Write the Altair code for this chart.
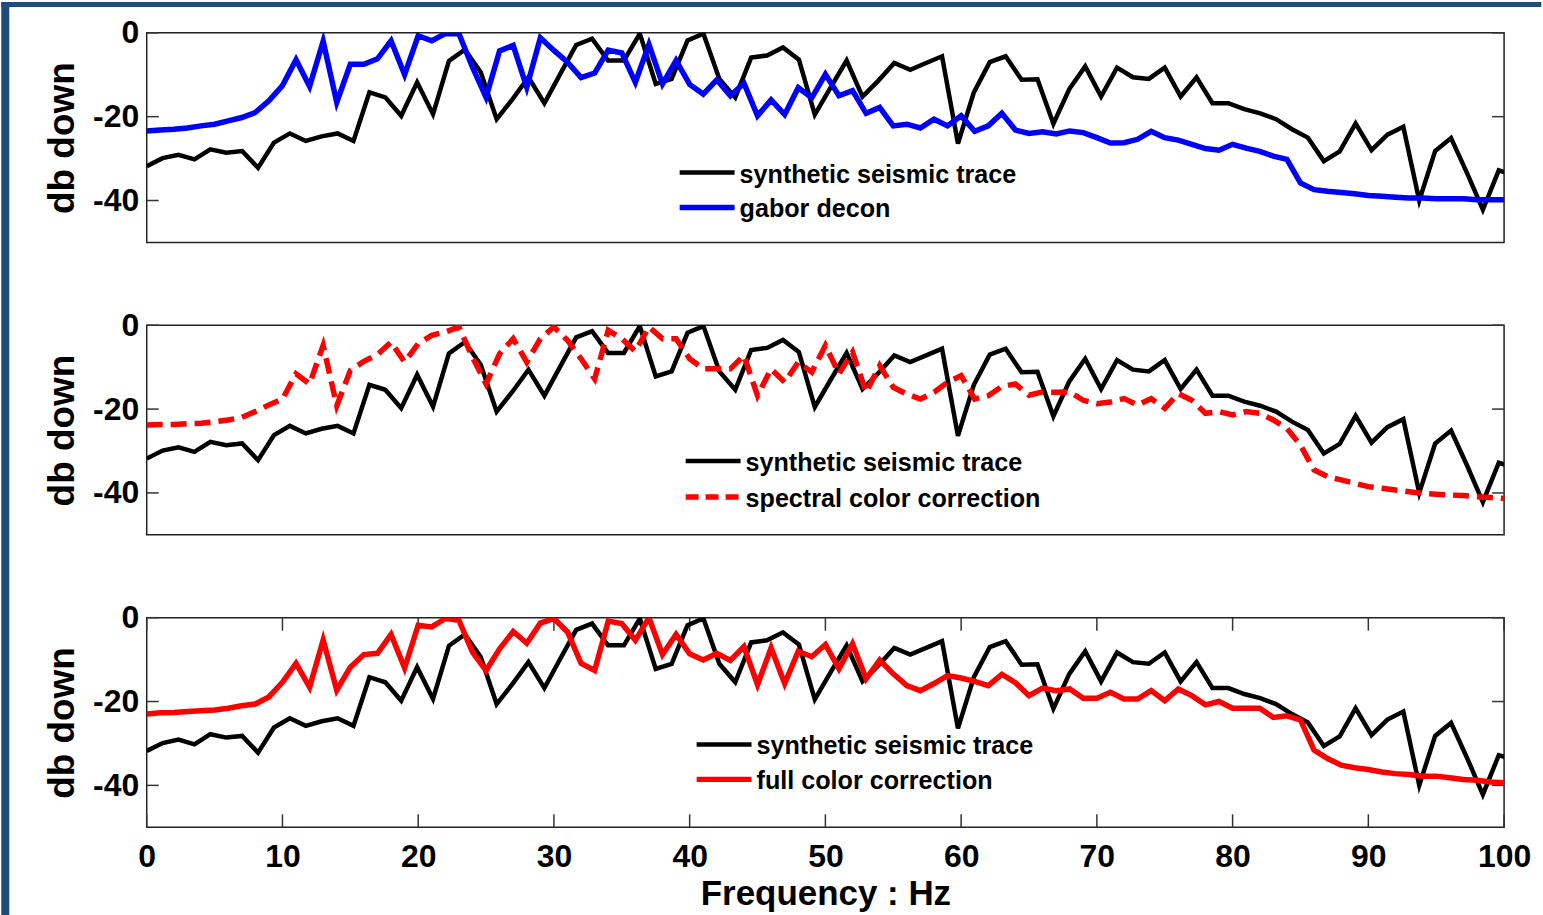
import altair as alt
import pandas as pd

# ---------------- data ----------------
SERIES = ["synthetic seismic trace", "gabor decon",
          "spectral color correction", "full color correction"]

# synthetic trace: sampled every 1.171875 Hz (k = 0..86)
BLACK_STEP_HZ = 1.171875
synthetic_db = [
    -31.8, -29.9, -29.1, -30.2, -27.8, -28.6, -28.2, -32.2, -26.2, -24.0,
    -25.8, -24.7, -24.0, -25.8, -14.2, -15.4, -19.8, -11.8, -19.4, -6.7,
    -4.0, -9.4, -20.6, -15.8, -10.6, -16.8, -9.8, -2.9, -1.4, -6.6,
    -6.6, -0.2, -12.2, -11.0, -1.8, -0.2, -11.0, -15.4, -5.9, -5.4,
    -3.5, -6.4, -19.5, -13.0, -6.6, -15.2, -11.4, -7.2, -8.8, -7.2,
    -5.6, -26.4, -14.2, -7.0, -5.6, -11.2, -11.1, -21.7, -13.4, -8.0,
    -15.2, -8.3, -10.6, -11.0, -8.3, -15.2, -10.6, -16.8, -16.8, -18.2,
    -19.2, -20.6, -23.0, -25.0, -30.6, -28.3, -21.6, -28.0, -24.3, -22.4,
    -40.0, -28.2, -25.1, -33.4, -42.2, -32.8, -34.0,
]

# processed spectra: sampled every 1 Hz (0..100)
freq_hz = list(range(0, 101))
gabor_db = [
    -23.4, -23.2, -23.0, -22.7, -22.2, -21.8, -21.0, -20.2, -19.0, -16.2,
    -12.6, -6.4, -12.8, -2.0, -16.6, -7.5, -7.5, -6.2, -1.9, -10.0,
    -0.7, -1.9, -0.2, -0.2, -8.2, -15.4, -4.3, -3.0, -13.0, -1.2,
    -4.2, -7.0, -10.7, -9.6, -4.1, -4.8, -11.8, -2.8, -12.2, -6.6,
    -12.3, -14.6, -11.2, -15.0, -12.0, -19.8, -16.0, -19.5, -13.1, -15.5,
    -9.9, -15.0, -13.8, -19.2, -17.8, -22.2, -21.8, -22.7, -20.6, -22.2,
    -19.8, -23.5, -22.2, -19.2, -23.2, -24.0, -23.6, -24.1, -23.4, -23.8,
    -25.0, -26.3, -26.2, -25.4, -23.5, -25.0, -25.6, -26.6, -27.6, -28.0,
    -26.6, -27.5, -28.3, -29.4, -30.2, -35.8, -37.4, -37.8, -38.1, -38.4,
    -38.8, -39.0, -39.2, -39.4, -39.4, -39.6, -39.6, -39.6, -39.8, -39.8,
    -39.8,
]
spectral_db = [
    -23.8, -23.7, -23.7, -23.5, -23.4, -23.0, -22.6, -22.0, -20.6, -19.0,
    -17.6, -11.6, -14.0, -4.8, -19.2, -10.8, -8.6, -7.0, -4.0, -8.8,
    -4.4, -2.4, -1.6, -0.4, -7.6, -14.0, -6.8, -3.2, -8.8, -3.2,
    -0.4, -3.6, -8.0, -12.8, -1.2, -3.2, -6.2, -0.4, -3.2, -3.2,
    -8.0, -10.4, -10.4, -10.4, -7.2, -16.8, -10.4, -13.6, -8.8, -11.2,
    -4.8, -11.6, -6.4, -16.0, -9.6, -14.8, -16.4, -17.6, -16.0, -13.6,
    -12.0, -17.6, -16.8, -14.6, -14.0, -16.7, -15.9, -16.0, -15.9, -17.9,
    -18.7, -18.3, -17.5, -19.0, -17.5, -19.8, -16.3, -17.9, -21.0, -20.6,
    -21.4, -20.6, -21.0, -22.6, -24.6, -28.6, -34.5, -36.1, -36.9, -37.7,
    -38.5, -38.9, -39.3, -39.7, -40.1, -40.3, -40.5, -40.6, -40.9, -41.1,
    -41.3,
]
full_db = [
    -23.0, -22.7, -22.6, -22.4, -22.2, -22.0, -21.6, -21.0, -20.6, -18.9,
    -15.4, -10.9, -16.6, -5.3, -17.3, -11.8, -8.8, -8.5, -4.0, -12.0,
    -1.8, -2.2, -0.2, -0.6, -8.2, -12.6, -7.4, -3.3, -6.1, -1.3,
    -0.2, -3.4, -10.9, -12.6, -0.8, -1.4, -5.4, 0.0, -8.8, -4.0,
    -8.6, -10.1, -8.5, -10.2, -6.9, -16.0, -7.2, -15.7, -8.0, -9.3,
    -6.4, -12.2, -6.2, -14.6, -10.1, -13.4, -16.2, -17.4, -15.7, -13.8,
    -14.4, -15.2, -16.2, -13.5, -15.5, -18.6, -16.8, -17.4, -17.0, -19.2,
    -19.2, -17.8, -19.4, -19.4, -17.4, -19.8, -17.0, -18.6, -20.8, -20.0,
    -21.6, -21.6, -21.6, -23.8, -23.4, -24.4, -31.6, -33.6, -35.2, -35.8,
    -36.2, -36.8, -37.2, -37.4, -37.8, -37.8, -38.2, -38.6, -38.8, -39.2,
    -39.4,
]

y_tick_values = [0, -20, -40]
x_tick_values = [0, 10, 20, 30, 40, 50, 60, 70, 80, 90, 100]

# ---------------- styling ----------------
FONT = "Liberation Sans"
NAVY = "#1F4A7C"
W, H = 1360, 210
xscale = alt.Scale(domain=[0, 100], nice=False, zero=False)
yscale = alt.Scale(domain=[-50, 0], nice=False, zero=False)

synthetic_df = pd.DataFrame({
    "freq": [k * BLACK_STEP_HZ for k in range(len(synthetic_db))],
    "db": synthetic_db})
gabor_df = pd.DataFrame({"freq": freq_hz, "db": gabor_db})
spectral_df = pd.DataFrame({"freq": freq_hz, "db": spectral_db})
full_df = pd.DataFrame({"freq": freq_hz, "db": full_db})
ytick_df = pd.DataFrame({"v": y_tick_values})
xtick_df = pd.DataFrame({"v": x_tick_values})


def y_axis():
    return alt.Axis(values=y_tick_values, ticks=False, domain=False, grid=False,
                    labelFont=FONT, labelFontSize=32, labelFontWeight="bold",
                    labelColor="black", labelPadding=8, labelFlush=False,
                    labelExpr="'' + datum.value",
                    title="db down", titleFont=FONT, titleFontSize=37,
                    titleFontWeight="bold", titleColor="black", titleAngle=270,
                    titleX=-84, titleY=H / 2, titleAlign="center",
                    titleBaseline="middle")


def x_axis(show):
    if not show:
        return None
    return alt.Axis(values=x_tick_values, ticks=False, domain=False, grid=False,
                    labelFont=FONT, labelFontSize=32, labelFontWeight="bold",
                    labelColor="black", labelPadding=14, labelFlush=False,
                    title="Frequency : Hz", titleFont=FONT, titleFontSize=35,
                    titleFontWeight="bold", titleColor="black", titlePadding=4)


def line(df, color, width, show_x, dash=None):
    kw = dict(color=color, strokeWidth=width, clip=True)
    if dash is not None:
        kw["strokeDash"] = dash
    return alt.Chart(df).mark_line(**kw).encode(
        x=alt.X("freq:Q", scale=xscale, axis=x_axis(show_x)),
        y=alt.Y("db:Q", scale=yscale, axis=y_axis()),
    )


def y_ticks():
    left = alt.Chart(ytick_df).mark_rule(color="#333", strokeWidth=1.5).encode(
        y=alt.Y("v:Q", scale=yscale, axis=y_axis()),
        x=alt.value(0), x2=alt.value(12))
    right = alt.Chart(ytick_df).mark_rule(color="#333", strokeWidth=1.5).encode(
        y=alt.Y("v:Q", scale=yscale, axis=y_axis()),
        x=alt.value(W - 12), x2=alt.value(W))
    return [left, right]


def x_ticks():
    bottom = alt.Chart(xtick_df).mark_rule(color="#333", strokeWidth=1.5).encode(
        x=alt.X("v:Q", scale=xscale, axis=x_axis(True)),
        y=alt.value(H - 13), y2=alt.value(H))
    top = alt.Chart(xtick_df).mark_rule(color="#333", strokeWidth=1.5).encode(
        x=alt.X("v:Q", scale=xscale, axis=x_axis(True)),
        y=alt.value(0), y2=alt.value(13))
    return [bottom, top]


def legend_entry(name, color, width, x0, y0, dash=None):
    kw = dict(color=color, strokeWidth=width)
    if dash is not None:
        kw["strokeDash"] = dash
    d = pd.DataFrame({"label": [name]})
    rule = alt.Chart(d).mark_rule(**kw).encode(
        x=alt.value(x0), x2=alt.value(x0 + 55), y=alt.value(y0))
    text = alt.Chart(d).mark_text(align="left", baseline="middle", font=FONT,
                                  fontSize=25.2, fontWeight="bold",
                                  color="black").encode(
        x=alt.value(x0 + 60), y=alt.value(y0 + 2), text="label:N")
    return [rule, text]


DASH = [16, 8]

# decorative navy frame (left and top strips of the slide), filled rects
frame_df = pd.DataFrame({"a": [0]})
frame_left = alt.Chart(frame_df).mark_rect(color=NAVY, strokeWidth=0).encode(
    x=alt.value(-145.7), x2=alt.value(-137.7), y=alt.value(-31), y2=alt.value(884))
frame_top = alt.Chart(frame_df).mark_rect(color=NAVY, strokeWidth=0).encode(
    x=alt.value(-145.7), x2=alt.value(1397.3), y=alt.value(-31), y2=alt.value(-26))

BW, CW = 4.5, 5.5

p1 = alt.layer(
    frame_left, frame_top,
    *y_ticks(),
    line(synthetic_df, "black", BW, False),
    line(gabor_df, "#0000FF", CW, False),
    *legend_entry(SERIES[0], "black", BW, 534, 140),
    *legend_entry(SERIES[1], "#0000FF", CW, 534, 175),
).properties(width=W, height=H)

p2 = alt.layer(
    *y_ticks(),
    line(synthetic_df, "black", BW, False),
    line(spectral_df, "#FF0000", CW, False, DASH),
    *legend_entry(SERIES[0], "black", BW, 540, 136),
    *legend_entry(SERIES[2], "#FF0000", CW, 540, 172, [13, 7]),
).properties(width=W, height=H)

p3 = alt.layer(
    *y_ticks(),
    *x_ticks(),
    line(synthetic_df, "black", BW, True),
    line(full_df, "#FF0000", CW, True),
    *legend_entry(SERIES[0], "black", BW, 551, 127),
    *legend_entry(SERIES[3], "#FF0000", CW, 551, 162),
).properties(width=W, height=H)

chart = alt.vconcat(p1, p2, p3, spacing=83, bounds="flush").properties(
    padding=0, background="white"
).configure_view(stroke="#222", strokeWidth=1.5)

chart.save("out.html", embed_options={"renderer": "svg", "actions": False})
